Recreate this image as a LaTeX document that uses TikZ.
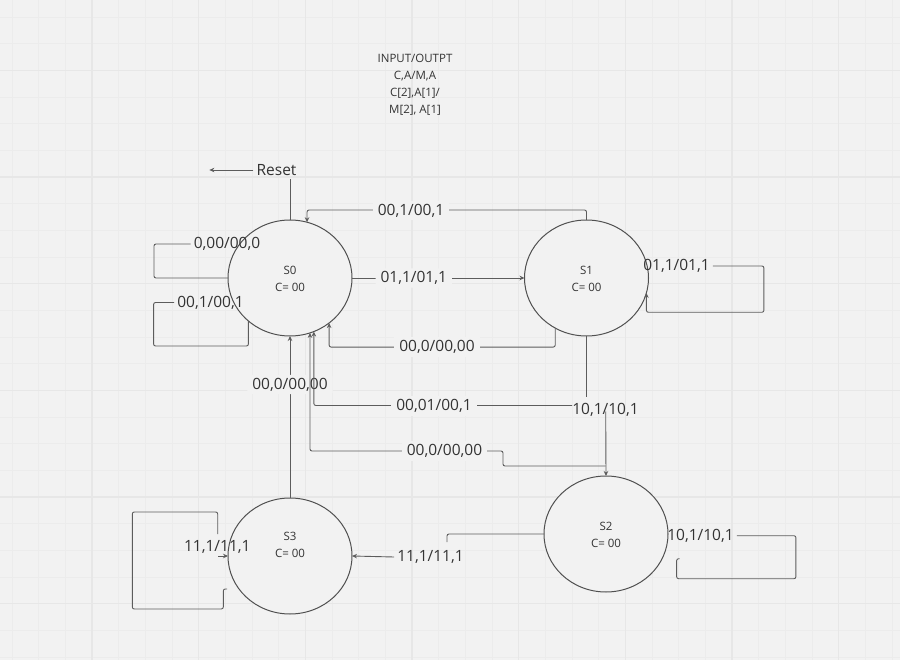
\documentclass[tikz,border=0pt]{standalone}
\usepackage{fontspec}
\setmainfont{Open Sans}
\usetikzlibrary{shapes.geometric,arrows.meta}
\definecolor{bgc}{HTML}{F2F2F2}
\definecolor{minorc}{HTML}{ECECEC}
\definecolor{majorc}{HTML}{E7E7E7}
\definecolor{linec}{HTML}{5C5C5C}
\definecolor{circc}{HTML}{505050}
\definecolor{txtc}{HTML}{333333}
\begin{document}
\begin{tikzpicture}[x=1pt,y=-1pt,
  conn/.style={draw=linec,line width=0.9pt,rounded corners=2pt},
  arr/.style={-{Stealth[length=5pt,width=4.5pt]}},
  lbl/.style={font=\fontsize{15.5}{18}\selectfont,text=txtc,inner sep=3pt},
  opq/.style={fill=bgc,inner xsep=5pt},
  st/.style={ellipse,draw=circc,fill=bgc,line width=1pt,minimum width=124pt,minimum height=116pt,inner sep=0pt,outer sep=0pt},
  small/.style={font=\fontsize{11.5}{17}\selectfont,text=txtc,align=center}]
\useasboundingbox (0,0) rectangle (900,660);
\fill[bgc] (0,0) rectangle (900,660);
% grid
\foreach \i in {0,...,33} \draw[minorc,line width=0.7pt] ({12+\i*26.667},0) -- ({12+\i*26.667},660);
\foreach \j in {0,...,24} \draw[minorc,line width=0.7pt] (0,{17+\j*26.667}) -- (900,{17+\j*26.667});
\foreach \i in {0,...,7} \draw[majorc,line width=1.1pt] ({92+\i*106.667},0) -- ({92+\i*106.667},660);
\foreach \j in {0,...,5} \draw[majorc,line width=1.1pt] (0,{70.3+\j*106.667}) -- (900,{70.3+\j*106.667});

% title
\node[small] (title) at (415,85) {INPUT/OUTPT\\C,A/M,A\\C[2],A[1]/\\M[2], A[1]};

% states
\node[st] (S0) at (290,278) {};
\node[st] (S1) at (586.5,278) {};
\node[st] (S2) at (606,534) {};
\node[st] (S3) at (290,556) {};
\node[small] (t0) at (290,278.5) {S0\\C= 00};
\node[small] (t1) at (586.5,278.5) {S1\\C= 00};
\node[small] (t2) at (606,535.3) {S2\\C= 00};
\node[small] (t3) at (290,545) {S3\\C= 00};

% reset
\node[lbl] (reset) at (276.5,170) {Reset};
\draw[conn,arr] (reset.west) -- ++(-44,0);
\draw[conn] (S0.north) -- (S0.north |- reset.south);

% S1 -> S0 top
\draw[conn,arr] (S1.north) -- ++(0,-10) -| (S0.73);
\node[lbl,opq] (l1) at (411,210.5) {00,1/00,1};

% S0 -> S1
\draw[conn,arr] (S0.east) -- (S1.west) node[lbl,opq,pos=0.358] (l2) {01,1/01,1};

% S1 -> S0 bottom
\draw[conn,arr] (S1.-122) -- ++(0,19) -| (S0.-49);
\node[lbl,opq] (l3) at (437,347) {00,0/00,00};

% S0 self loops
\node[lbl] (lA) at (227,244) {0,00/00,0};
\draw[conn] (S0.west) -- ++(-74,0) |- (lA.west);
\node[lbl] (lB) at (210.5,302.5) {00,1/00,1};
\draw[conn] (lB.west) -| ++(-20.5,43.5) -| (S0.-134);

% S3 -> S0
\draw[conn,arr] (S3.north) -- (S0.south) node[lbl,opq,pos=0.70] (l4) {00,0/00,00};

% S1 -> S2 and branches
\draw[conn] (S1.south) -- ++(0,61);
\coordinate (j1) at (572,405.5);
\draw[conn,arr] (j1) -| (S0.-66);
\node[lbl,opq] (l5) at (434,406) {00,01/00,1};
\coordinate (j2) at (605.7,411.5);
\draw[conn,arr] (j2) -- (S2.north);
\node[lbl] (l6) at (605.5,410) {10,1/10,1};
\coordinate (j3) at (605.7,466);
\draw[conn,arr] (j3) -- ++(-102.7,0) -- ++(0,-15) -| (S0.-70);
\node[lbl,opq] (l7) at (444.5,451) {00,0/00,00};

% S1 self loop
\node[lbl] (lS1) at (676.5,266) {01,1/01,1};
\draw[conn,arr] (lS1.east) -| ++(51,46.3) -| (S1.-14);

% S2 -> S3
\node[lbl] (l8) at (430.5,557) {11,1/11,1};
\draw[conn] (S2.west) -| ++(-97,8);
\draw[conn,arr] (l8.west) -- (S3.east);

% S2 self loop
\node[lbl] (lS2) at (700.5,535.7) {10,1/10,1};
\draw[conn] (lS2.east) -- ++(59,0) -- ++(0,43) -- ++(-119.3,0) -- ++(0,-20) -- ++(3,0);

% S3 self loop
\node[lbl] (lS3) at (217.3,547) {11,1/11,1};
\coordinate (k1) at (227,589);
\draw[conn] (k1) -- ++(-3.7,0) -- ++(0,20) -- ++(-91,0) -- ++(0,-97) -- ++(85.4,0) -- ++(0,22);
\coordinate (k2) at (218,556);
\draw[conn,arr] (k2) -- (S3.west);
\end{tikzpicture}
\end{document}
